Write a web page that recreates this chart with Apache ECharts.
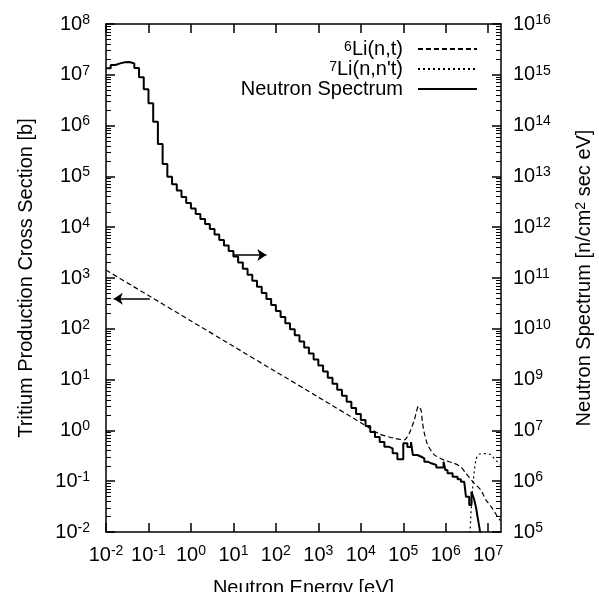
<!DOCTYPE html>
<html><head><meta charset="utf-8">
<script src="https://cdn.jsdelivr.net/npm/echarts@6/dist/echarts.min.js"></script>
<style>html,body{margin:0;padding:0;background:#fff}#c{width:599px;height:592px}</style>
</head><body><div id="c"></div>
<script>
const FONT = '"Liberation Sans", Arial, Helvetica, sans-serif';

// tick values and labels (exponents shown as superscripts)
const xTickValues = [1e-2, 1e-1, 1, 10, 100, 1e3, 1e4, 1e5, 1e6, 1e7];
const xTickLabels = ['-2', '-1', '0', '1', '2', '3', '4', '5', '6', '7'];
const leftTickValues = [1e-2, 1e-1, 1, 10, 100, 1e3, 1e4, 1e5, 1e6, 1e7, 1e8];
const leftTickLabels = ['-2', '-1', '0', '1', '2', '3', '4', '5', '6', '7', '8'];
const rightTickValues = [1e5, 1e6, 1e7, 1e8, 1e9, 1e10, 1e11, 1e12, 1e13, 1e14, 1e15];
const rightTickLabels = ['5', '6', '7', '9', '10', '11', '12', '13', '14', '15', '16'];

// 6Li(n,t) cross section [b]
const li6Energy = [0.01, 0.1, 1, 10, 100, 1000, 1e4, 2.74e4, 6.17e4, 1.06e5, 1.39e5, 1.82e5, 2.03e5, 2.26e5, 2.62e5, 2.82e5, 3.13e5, 3.74e5, 5.37e5, 9.23e5, 1.58e6, 2.28e6, 2.99e6, 4.68e6, 6.73e6, 8.81e6, 1.26e7, 1.65e7, 1.9e7];
const li6Sigma  = [1430, 452, 143, 45.2, 14.3, 4.52, 1.42, 0.85, 0.70, 0.65, 0.88, 1.6, 2.3, 3.0, 2.5, 1.46, 0.88, 0.52, 0.33, 0.26, 0.225, 0.19, 0.143, 0.091, 0.067, 0.043, 0.029, 0.020, 0.017];

// 7Li(n,n't) cross section [b]
const li7Energy = [3.6e6, 4.27e6, 5.13e6, 6.14e6, 8.81e6, 1.15e7, 1.38e7, 1.65e7, 1.9e7];
const li7Sigma  = [0.006, 0.067, 0.26, 0.34, 0.35, 0.33, 0.28, 0.24, 0.21];

// Neutron spectrum: group lower edges [eV] and group flux
const spectrumEdges = [
  0.01, 0.01292, 0.01668, 0.02154, 0.02783, 0.03594, 0.04642, 0.05995, 0.07743,
  0.1, 0.1292, 0.1668, 0.2154, 0.2783, 0.3594, 0.4642, 0.5995, 0.7743,
  1, 1.292, 1.668, 2.154, 2.783, 3.594, 4.642, 5.995, 7.743,
  10, 12.92, 16.68, 21.54, 27.83, 35.94, 46.42, 59.95, 77.43,
  100, 129.2, 166.8, 215.4, 278.3, 359.4, 464.2, 599.5, 774.3,
  1000, 1292, 1668, 2154, 2783, 3594, 4642, 5995, 7743,
  1e4, 1.292e4, 1.668e4, 2.154e4, 2.783e4,
  3.59e4, 4.46e4, 5.62e4, 7.26e4, 1.0e5, 1.25e5, 1.52e5, 1.68e5, 2.14e5, 2.66e5,
  3.13e5, 3.74e5, 4.57e5, 5.99e5, 8.89e5, 9.75e5, 1.1e6, 1.45e6, 1.9e6, 2.28e6,
  2.72e6, 2.99e6, 3.57e6, 4.04e6
];
const spectrumFlux = [
  1.34e14, 1.56e14, 1.68e14, 1.76e14, 1.79e14, 1.67e14, 1.36e14, 8.93e13, 5.19e13,
  2.75e13, 1.19e13, 4.35e12, 1.75e12, 9.86e11, 6.98e11, 5.27e11, 3.93e11, 2.99e11,
  2.33e11, 1.82e11, 1.45e11, 1.16e11, 9.22e10, 7.18e10, 5.6e10, 4.36e10, 3.4e10,
  2.65e10, 2.02e10, 1.52e10, 1.16e10, 8.85e9, 6.71e9, 5.09e9, 3.88e9, 2.94e9,
  2.24e9, 1.71e9, 1.29e9, 9.8e8, 7.48e8, 5.65e8, 4.3e8, 3.27e8, 2.49e8,
  1.89e8, 1.44e8, 1.09e8, 8.26e7, 6.3e7, 4.8e7, 3.66e7, 2.76e7, 2.1e7,
  1.6e7, 1.22e7, 9.3e6, 7.4e6, 5.9e6,
  4.78e6, 4.44e6, 3.54e6, 2.7e6, 5.57e6, 4.71e6, 5.9e6, 3.28e6, 3.03e6, 2.82e6,
  2.42e6, 2.25e6, 2.08e6, 1.86e6, 2.42e6, 1.66e6, 1.43e6, 1.23e6, 1.09e6, 9.8e5,
  9.1e5, 4.95e5, 3.4e5, 6.2e5
];
// high-energy tail of the spectrum
const tailEnergy = [4.04e6, 4.68e6, 5.13e6, 5.6e6, 6.47e6, 6.9e6];
const tailFlux   = [6.2e5, 4.27e5, 3.1e5, 2.0e5, 9.8e4, 6.0e4];

// arrow annotations
const arrowSpectrum = {from: [10.4, 2.84e10], to: [59.7, 2.84e10]};
const arrowLi6 = {from: [0.108, 390], to: [0.0152, 390]};

const zip = (a, b) => a.map((v, i) => [v, b[i]]);
// nudge tick positions inward by a negligible amount so the end ticks survive float rounding
const inside = vals => vals.map((v, i) => i === 0 ? v * (1 + 1e-9) : v * (1 - 1e-9));
function minorTicks(lo, hi) {
  const out = [];
  for (let e = lo; e < hi; e++) for (let k = 2; k <= 9; k++) out.push(k * Math.pow(10, e));
  return out;
}
function expFmt(values, labels) {
  return v => {
    const i = values.findIndex(t => Math.abs(Math.log10(t) - Math.log10(v)) < 1e-6);
    return i < 0 ? '' : '{b|10}{s|' + labels[i] + '}';
  };
}
const rich = {
  b: {fontFamily: FONT, fontSize: 20, color: '#000', lineHeight: 22},
  s: {fontFamily: FONT, fontSize: 14, color: '#000', verticalAlign: 'top', lineHeight: 12}
};
const axisLine = {show: true, lineStyle: {color: '#000', width: 1.5}};

const chart = echarts.init(document.getElementById('c'), null, {renderer: 'canvas'});
chart.setOption({
  animation: false,
  backgroundColor: '#fff',
  grid: {left: 106, right: 98, top: 24, bottom: 60, containLabel: false, outerBoundsMode: 'none'},
  legend: {
    orient: 'vertical', right: 116, top: 34, align: 'right', itemGap: 0,
    itemWidth: 59, itemHeight: 10,
    itemStyle: {opacity: 0, color: 'transparent', borderWidth: 0},
    data: ['6Li(n,t)', "7Li(n,n't)", 'Neutron Spectrum'],
    formatter: n => n === 'Neutron Spectrum' ? '{t|' + n + '}' : '{s|' + n[0] + '}{t|' + n.slice(1) + '}',
    textStyle: {
      padding: [0, 10, 0, 0],
      rich: {
        t: {fontFamily: FONT, fontSize: 20, color: '#000', lineHeight: 17},
        s: {fontFamily: FONT, fontSize: 14, color: '#000', verticalAlign: 'top', lineHeight: 10}
      }
    }
  },
  xAxis: [
    {
      type: 'log', min: 0.01, max: 2e7, position: 'bottom',
      name: 'Neutron Energy [eV]', nameLocation: 'middle', nameGap: 46,
      nameTextStyle: {fontFamily: FONT, fontSize: 20, color: '#000'},
      axisLine,
      axisTick: {inside: true, length: 9, customValues: inside(xTickValues), lineStyle: {color: '#000', width: 1.5}},
      axisLabel: {customValues: inside(xTickValues), formatter: expFmt(xTickValues, xTickLabels), margin: 12, rich},
      splitLine: {show: false}, minorTick: {show: false}
    },
    {
      type: 'log', min: 0.01, max: 2e7, position: 'top',
      axisLine,
      axisTick: {inside: true, length: 9, customValues: inside(xTickValues), lineStyle: {color: '#000', width: 1.5}},
      axisLabel: {show: false}, splitLine: {show: false}
    }
  ],
  yAxis: [
    {
      type: 'log', min: 0.01, max: 1e8, position: 'left',
      name: 'Tritium Production Cross Section [b]', nameLocation: 'middle', nameGap: 70, nameRotate: 90,
      nameTextStyle: {fontFamily: FONT, fontSize: 20, color: '#000'},
      axisLine,
      axisTick: {inside: true, length: 9, customValues: inside(leftTickValues), lineStyle: {color: '#000', width: 1.5}},
      axisLabel: {customValues: inside(leftTickValues), formatter: expFmt(leftTickValues, leftTickLabels), margin: 16, rich},
      splitLine: {show: false}
    },
    {
      type: 'log', min: 1e5, max: 1e15, position: 'right',
      name: 'Neutron Spectrum [n/cm{s|2} sec eV]', nameLocation: 'middle', nameGap: 73, nameRotate: 90,
      nameTextStyle: {fontFamily: FONT, fontSize: 20, color: '#000', rich: {s: {fontFamily: FONT, fontSize: 14, color: '#000', verticalAlign: 'top', lineHeight: 10}}},
      axisLine,
      axisTick: {inside: true, length: 9, customValues: inside(rightTickValues), lineStyle: {color: '#000', width: 1.5}},
      axisLabel: {customValues: inside(rightTickValues), formatter: expFmt(rightTickValues, rightTickLabels), margin: 12, rich},
      splitLine: {show: false}
    },
    {
      type: 'log', min: 0.01, max: 1e8, position: 'left',
      axisLine: {show: false}, axisLabel: {show: false}, splitLine: {show: false},
      axisTick: {inside: true, length: 5, customValues: minorTicks(-2, 8), lineStyle: {color: '#000', width: 1}}
    },
    {
      type: 'log', min: 1e5, max: 1e15, position: 'right',
      axisLine: {show: false}, axisLabel: {show: false}, splitLine: {show: false},
      axisTick: {inside: true, length: 5, customValues: minorTicks(5, 15), lineStyle: {color: '#000', width: 1}}
    }
  ],
  series: [
    {
      name: '6Li(n,t)', type: 'line', xAxisIndex: 0, yAxisIndex: 0,
      data: zip(li6Energy, li6Sigma), symbol: 'none', smooth: 0.2,
      lineStyle: {color: '#000', width: 1.2, type: [5, 3]}, itemStyle: {color: '#000'},
      markLine: {
        silent: true, symbol: ['none', 'arrow'], symbolSize: 9, label: {show: false},
        lineStyle: {color: '#000', width: 1.5, type: 'solid'},
        data: [[{coord: arrowLi6.from}, {coord: arrowLi6.to}]]
      }
    },
    {
      name: "7Li(n,n't)", type: 'line', xAxisIndex: 0, yAxisIndex: 0,
      data: zip(li7Energy, li7Sigma), symbol: 'none', smooth: 0.3,
      lineStyle: {color: '#000', width: 1.2, type: [2, 3]}, itemStyle: {color: '#000'}
    },
    {
      name: 'Neutron Spectrum', type: 'line', xAxisIndex: 0, yAxisIndex: 1,
      data: zip(spectrumEdges, spectrumFlux), symbol: 'none', step: 'end',
      lineStyle: {color: '#000', width: 2}, itemStyle: {color: '#000'},
      markLine: {
        silent: true, symbol: ['none', 'arrow'], symbolSize: 9, label: {show: false},
        lineStyle: {color: '#000', width: 1.5, type: 'solid'},
        data: [[{coord: arrowSpectrum.from}, {coord: arrowSpectrum.to}]]
      }
    },
    {
      name: 'Neutron Spectrum', type: 'line', xAxisIndex: 0, yAxisIndex: 1,
      data: zip(tailEnergy, tailFlux), symbol: 'none', smooth: 0.3,
      lineStyle: {color: '#000', width: 2}, itemStyle: {color: '#000'}
    }
  ]
});
</script></body></html>
